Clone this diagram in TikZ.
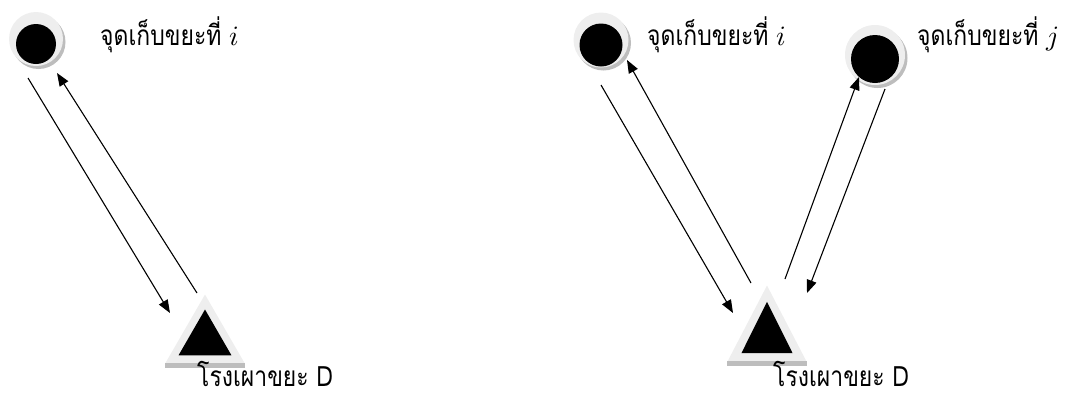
\documentclass[tikz,border=0pt]{standalone}
\usepackage{fontspec}
\usepackage{unicode-math}
\setmathfont{Latin Modern Math}
\newfontfamily\thaifont[Script=Thai,FakeStretch=0.82]{Loma}
\usetikzlibrary{arrows.meta,shapes.geometric}

\definecolor{ringgray}{HTML}{EEEEEE}
\definecolor{shadegray}{HTML}{BDBDBD}

\begin{document}
\begin{tikzpicture}[
    x=1pt, y=-1pt,
    bin/.style={circle, fill=ringgray, inner sep=0pt, minimum size=#1,
                preaction={fill=shadegray, transform canvas={shift={(2.5pt,-3pt)}}}},
    core/.style={circle, fill=black, inner sep=0pt, minimum size=#1},
    furnace/.style={regular polygon, regular polygon sides=3, fill=ringgray,
                    inner sep=0pt, minimum size=91pt},
    burner/.style={regular polygon, regular polygon sides=3, fill=black,
                   inner sep=0pt, minimum size=#1},
    flow/.style={-{Triangle[length=13pt,width=10pt]}, line width=1.1pt},
    label/.style={font=\thaifont\fontsize{28}{32}\selectfont, anchor=base west, inner sep=0pt},
]
    \useasboundingbox (0,0) rectangle (1085,400);

    % left: one collection point
    \node[bin=54pt] (binL) at (36,39) {};
    \node[core=40pt] (binLcore) at ([yshift=-5pt]binL.center) {};
    \node[label] (binLtext) at (100,45) {จุดเก็บขยะที่ $i$};

    \node[furnace] (furnL) at (205,340) {};
    \fill[shadegray] (furnL.corner 2) rectangle ([yshift=-5pt]furnL.corner 3);
    \node[burner=61pt] (furnLcore) at (furnL.center) {};
    \node[label] (furnLtext) at (197,386) {โรงเผาขยะ D};

    \draw[flow] ([shift={(-8,39)}]binL.center) -- ([shift={(-35,-27)}]furnL.center);
    \draw[flow] ([shift={(-8,-47)}]furnL.center) -- ([shift={(21,34)}]binL.center);

    % right: two collection points
    \node[bin=55pt] (binI) at (601,40) {};
    \node[core=43pt] (binIcore) at ([yshift=-5pt]binI.center) {};
    \node[label] (binItext) at (647,45) {จุดเก็บขยะที่ $i$};

    \node[bin=60pt] (binJ) at (875,55) {};
    \node[core=48pt] (binJcore) at ([yshift=-4pt]binJ.center) {};
    \node[label] (binJtext) at (917,45) {จุดเก็บขยะที่ $j$};

    \node[furnace, yscale=1.11] (furnR) at (767,336) {};
    \fill[shadegray] (furnR.corner 2) rectangle ([yshift=-5pt]furnR.corner 3);
    \node[burner=59pt, yscale=1.16] (furnRcore) at (furnR.center) {};
    \node[label] (furnRtext) at (773,386) {โรงเผาขยะ D};

    \draw[flow] ([shift={(0,45)}]binI.center) -- ([shift={(-34,-23)}]furnR.center);
    \draw[flow] ([shift={(-16,-53)}]furnR.center) -- ([shift={(26,20)}]binI.center);
    \draw[flow] ([shift={(18,-57)}]furnR.center) -- ([shift={(-16,22)}]binJ.center);
    \draw[flow] ([shift={(10,34)}]binJ.center) -- ([shift={(40,-43)}]furnR.center);

\end{tikzpicture}
\end{document}
